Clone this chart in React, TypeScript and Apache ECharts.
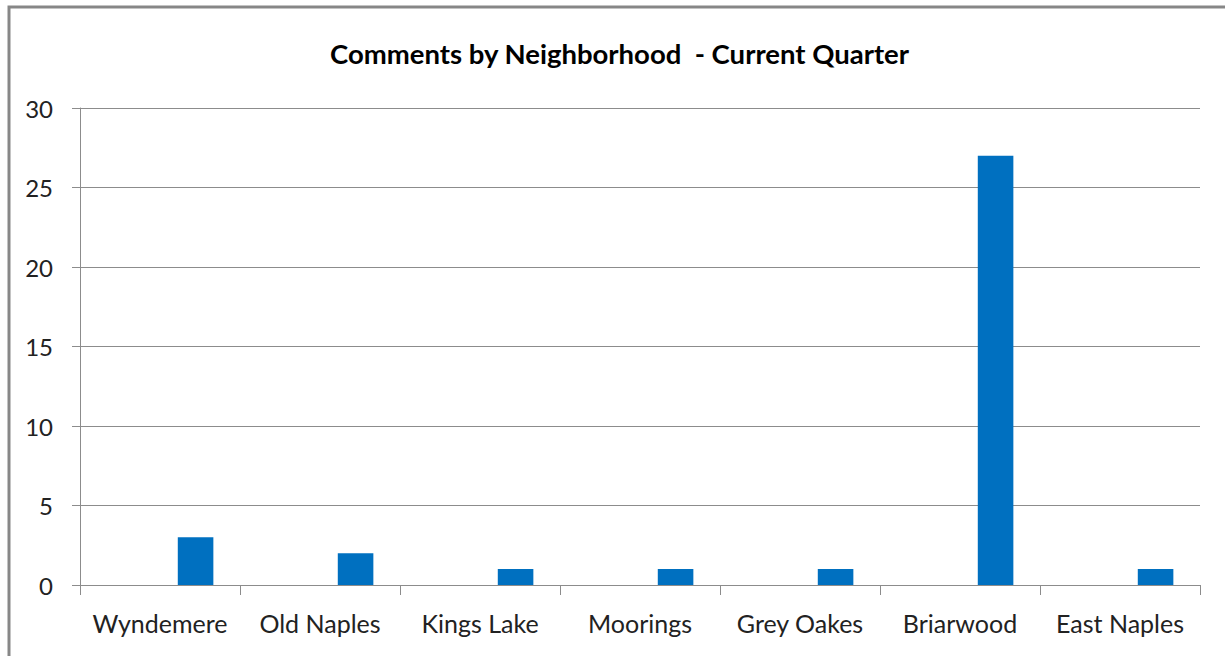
import React, { useEffect, useRef } from "react";
import * as echarts from "echarts";

const categories = ["Wyndemere", "Old Naples", "Kings Lake", "Moorings", "Grey Oakes", "Briarwood", "East Naples"];
const emptySeriesA: (number | null)[] = [null, null, null, null, null, null, null];
const emptySeriesB: (number | null)[] = [null, null, null, null, null, null, null];
const comments = [3, 2, 1, 1, 1, 27, 1];
const yTicks = [0, 5, 10, 15, 20, 25, 30];

const FONT = "Lato, 'Open Sans', sans-serif";

export default function App() {
  const ref = useRef<HTMLDivElement>(null);
  useEffect(() => {
    document.body.style.margin = "0";
    const chart = echarts.init(ref.current!, undefined, { renderer: "svg" });
    chart.setOption({
      animation: false,
      backgroundColor: "#ffffff",
      title: {
        text: "Comments by Neighborhood  - Current Quarter",
        left: 325,
        top: 34,
        textStyle: { fontFamily: FONT, fontSize: 27.5, fontWeight: "bold", color: "#000" },
      },
      graphic: [
        {
          type: "polyline",
          shape: { points: [[9, 660], [9, 7], [1230, 7]] },
          style: { stroke: "#878787", lineWidth: 3, fill: "none" },
          silent: true,
        },
      ],
      grid: { left: 80, right: 25, top: 108, bottom: 71, containLabel: false },
      xAxis: {
        type: "category",
        data: categories,
        axisLine: { lineStyle: { color: "#8c8c8c", width: 1 } },
        axisTick: { show: true, interval: 0, length: 10, lineStyle: { color: "#8c8c8c" } },
        axisLabel: { interval: 0, fontFamily: FONT, fontSize: 25, color: "#222", margin: 25 },
      },
      yAxis: {
        type: "value",
        min: yTicks[0],
        max: yTicks[yTicks.length - 1],
        interval: 5,
        axisLine: { show: true, lineStyle: { color: "#8c8c8c", width: 1 } },
        axisTick: { show: true, length: 8, lineStyle: { color: "#8c8c8c" } },
        axisLabel: { fontFamily: FONT, fontSize: 24, color: "#222", margin: 27 },
        splitLine: { show: true, lineStyle: { color: "#8c8c8c", width: 1 } },
      },
      series: [
        { type: "bar", data: emptySeriesA, barGap: "0%", barCategoryGap: "33.3%" },
        { type: "bar", data: emptySeriesB, barGap: "0%", barCategoryGap: "33.3%" },
        {
          type: "bar",
          data: comments,
          barGap: "0%",
          barCategoryGap: "33.3%",
          itemStyle: { color: "#0070C0" },
        },
      ],
    });
    return () => chart.dispose();
  }, []);
  return <div ref={ref} style={{ width: 1225, height: 656 }} />;
}
